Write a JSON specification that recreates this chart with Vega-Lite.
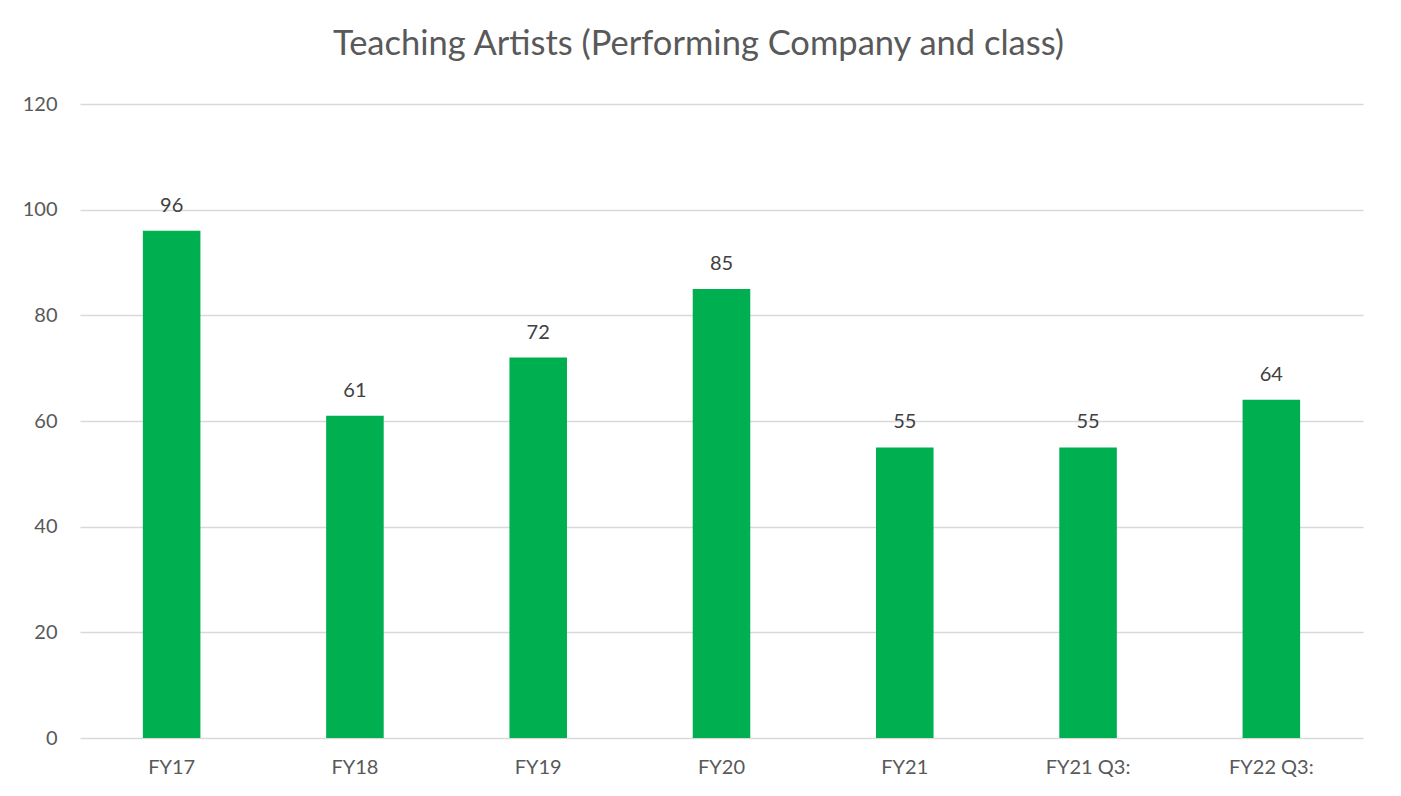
{
  "$schema": "https://vega.github.io/schema/vega-lite/v6.json",
  "autosize": "none",
  "width": 1283,
  "height": 634,
  "padding": {"left": 80, "top": 104, "right": 38, "bottom": 58},
  "background": "white",
  "config": {
    "view": {"stroke": null},
    "font": "Lato"
  },
  "title": {
    "text": "Teaching Artists (Performing Company and class)",
    "font": "Lato",
    "fontSize": 34.5,
    "fontWeight": "normal",
    "color": "#595959",
    "anchor": "middle",
    "frame": "group",
    "dx": -23,
    "baseline": "alphabetic",
    "offset": 5
  },
  "data": {
    "values": [
      {"period": "FY17", "value": 96},
      {"period": "FY18", "value": 61},
      {"period": "FY19", "value": 72},
      {"period": "FY20", "value": 85},
      {"period": "FY21", "value": 55},
      {"period": "FY21 Q3:", "value": 55},
      {"period": "FY22 Q3:", "value": 64}
    ]
  },
  "encoding": {
    "x": {
      "field": "period",
      "type": "nominal",
      "sort": null,
      "scale": {"paddingInner": 0.686, "paddingOuter": 0.343},
      "axis": {
        "title": null,
        "labelAngle": 0,
        "domain": false,
        "ticks": false,
        "labelFont": "Lato",
        "labelFontSize": 20,
        "labelColor": "#595959",
        "labelPadding": 19
      }
    },
    "y": {
      "field": "value",
      "type": "quantitative",
      "scale": {"domain": [0, 120]},
      "axis": {
        "title": null,
        "values": [0, 20, 40, 60, 80, 100, 120],
        "domain": false,
        "ticks": false,
        "grid": true,
        "gridColor": "#D9D9D9",
        "gridWidth": 1.5,
        "labelFont": "Lato",
        "labelFontSize": 20,
        "labelColor": "#595959",
        "labelPadding": 23
      }
    }
  },
  "layer": [
    {"mark": {"type": "bar", "color": "#00B050"}},
    {
      "mark": {
        "type": "text",
        "baseline": "alphabetic",
        "dy": -19,
        "font": "Lato",
        "fontSize": 20,
        "color": "#404040"
      },
      "encoding": {"text": {"field": "value", "type": "quantitative"}}
    }
  ]
}
